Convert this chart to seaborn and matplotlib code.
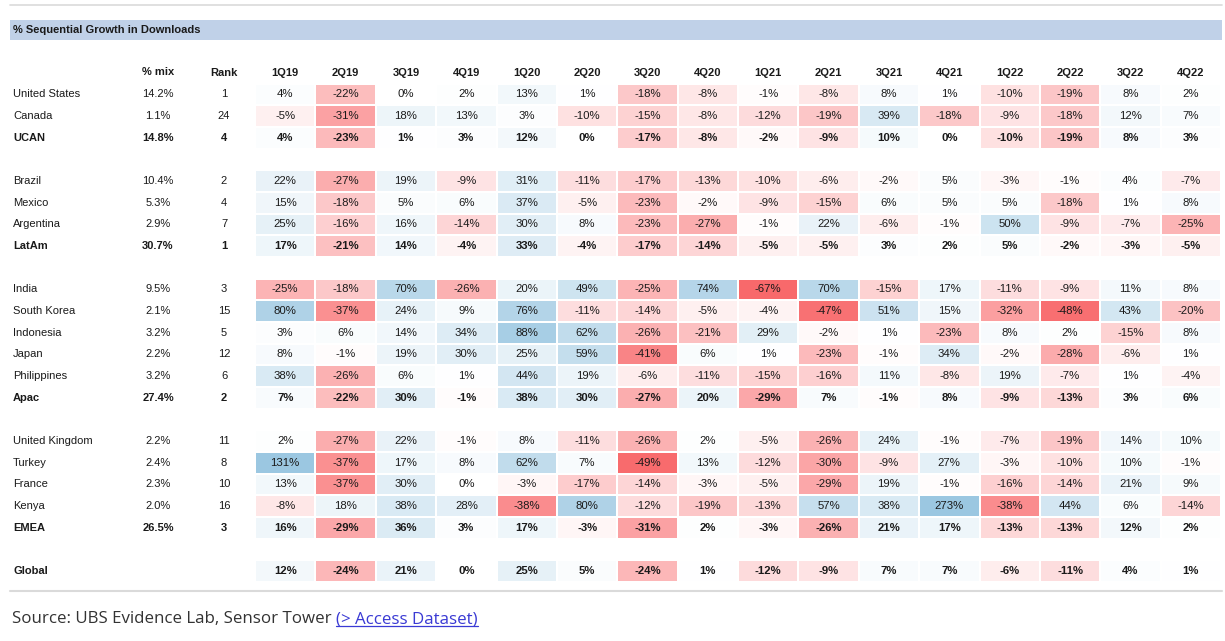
import numpy as np
import pandas as pd
import matplotlib
matplotlib.use("Agg")
import matplotlib.pyplot as plt
import matplotlib.transforms as mtransforms
from matplotlib.colors import LinearSegmentedColormap, TwoSlopeNorm
from matplotlib.lines import Line2D
from matplotlib.patches import Rectangle
import seaborn as sns

# -------------------------------------
# DATA
# -------------------------------------
quarters = ["1Q19", "2Q19", "3Q19", "4Q19", "1Q20", "2Q20", "3Q20", "4Q20",
            "1Q21", "2Q21", "3Q21", "4Q21", "1Q22", "2Q22", "3Q22", "4Q22"]

# "" marks a blank spacer row
row_names = ["United States", "Canada", "UCAN", "",
             "Brazil", "Mexico", "Argentina", "LatAm", "",
             "India", "South Korea", "Indonesia", "Japan", "Philippines", "Apac", "",
             "United Kingdom", "Turkey", "France", "Kenya", "EMEA", "",
             "Global"]
bold_rows = ["UCAN", "LatAm", "Apac", "EMEA", "Global"]

pct_mix = ["14.2%", "1.1%", "14.8%", "",
           "10.4%", "5.3%", "2.9%", "30.7%", "",
           "9.5%", "2.1%", "3.2%", "2.2%", "3.2%", "27.4%", "",
           "2.2%", "2.4%", "2.3%", "2.0%", "26.5%", "",
           ""]
rank = ["1", "24", "4", "",
        "2", "4", "7", "1", "",
        "3", "15", "5", "12", "6", "2", "",
        "11", "8", "10", "16", "3", "",
        ""]

united_states = [4, -22, 0, 2, 13, 1, -18, -8, -1, -8, 8, 1, -10, -19, 8, 2]
canada = [-5, -31, 18, 13, 3, -10, -15, -8, -12, -19, 39, -18, -9, -18, 12, 7]
ucan = [4, -23, 1, 3, 12, 0, -17, -8, -2, -9, 10, 0, -10, -19, 8, 3]
brazil = [22, -27, 19, -9, 31, -11, -17, -13, -10, -6, -2, 5, -3, -1, 4, -7]
mexico = [15, -18, 5, 6, 37, -5, -23, -2, -9, -15, 6, 5, 5, -18, 1, 8]
argentina = [25, -16, 16, -14, 30, 8, -23, -27, -1, 22, -6, -1, 50, -9, -7, -25]
latam = [17, -21, 14, -4, 33, -4, -17, -14, -5, -5, 3, 2, 5, -2, -3, -5]
india = [-25, -18, 70, -26, 20, 49, -25, 74, -67, 70, -15, 17, -11, -9, 11, 8]
south_korea = [80, -37, 24, 9, 76, -11, -14, -5, -4, -47, 51, 15, -32, -48, 43, -20]
indonesia = [3, 6, 14, 34, 88, 62, -26, -21, 29, -2, 1, -23, 8, 2, -15, 8]
japan = [8, -1, 19, 30, 25, 59, -41, 6, 1, -23, -1, 34, -2, -28, -6, 1]
philippines = [38, -26, 6, 1, 44, 19, -6, -11, -15, -16, 11, -8, 19, -7, 1, -4]
apac = [7, -22, 30, -1, 38, 30, -27, 20, -29, 7, -1, 8, -9, -13, 3, 6]
united_kingdom = [2, -27, 22, -1, 8, -11, -26, 2, -5, -26, 24, -1, -7, -19, 14, 10]
turkey = [131, -37, 17, 8, 62, 7, -49, 13, -12, -30, -9, 27, -3, -10, 10, -1]
france = [13, -37, 30, 0, -3, -17, -14, -3, -5, -29, 19, -1, -16, -14, 21, 9]
kenya = [-8, 18, 38, 28, -38, 80, -12, -19, -13, 57, 38, 273, -38, 44, 6, -14]
emea = [16, -29, 36, 3, 17, -3, -31, 2, -3, -26, 21, 17, -13, -13, 12, 2]
global_row = [12, -24, 21, 0, 25, 5, -24, 1, -12, -9, 7, 7, -6, -11, 4, 1]

blank = [np.nan] * len(quarters)
rows = [united_states, canada, ucan, blank,
        brazil, mexico, argentina, latam, blank,
        india, south_korea, indonesia, japan, philippines, apac, blank,
        united_kingdom, turkey, france, kenya, emea, blank,
        global_row]

df = pd.DataFrame(rows, columns=quarters, dtype=float)
labels = df.map(lambda v: "" if np.isnan(v) else f"{int(v)}%")

# -------------------------------------
# FIGURE
# -------------------------------------
sns.set_style("white")
plt.rcParams["font.family"] = ["Liberation Sans", "DejaVu Sans"]

W, H = 1225, 641
fig = plt.figure(figsize=(W / 100, H / 100), dpi=100)
ax = fig.add_axes([255 / W, 1 - 582 / H, (1221 - 255) / W, (582 - 83.5) / H])

cmap = LinearSegmentedColormap.from_list("rwb", ["#F8696B", "#FFFFFF", "#9BC7E1"])
norm = TwoSlopeNorm(vmin=-50, vcenter=0, vmax=100)

sns.heatmap(df, ax=ax, cmap=cmap, norm=norm, annot=labels, fmt="",
            annot_kws={"color": "#1a1a1a", "fontsize": 8.2},
            cbar=False, xticklabels=False, yticklabels=False,
            linewidths=0.2, linecolor="white")

for t in ax.texts:
    r = int(t.get_position()[1])
    if row_names[r] in bold_rows:
        t.set_fontweight("bold")

# header row
for j, q in enumerate(quarters):
    ax.text(j + 0.5, -0.5, q, ha="center", va="center", fontsize=8,
            fontweight="bold", color="#1a1a1a", clip_on=False)

# left columns: name, % mix, rank
trans = mtransforms.blended_transform_factory(fig.transFigure, ax.transData)
ax.text(158 / W, -0.55, "% mix", transform=trans, ha="center", va="center",
        fontsize=8, fontweight="bold", color="#1a1a1a")
ax.text(224 / W, -0.5, "Rank", transform=trans, ha="center", va="center",
        fontsize=8, fontweight="bold", color="#1a1a1a")
for i, name in enumerate(row_names):
    if not name:
        continue
    w = "bold" if name in bold_rows else "normal"
    ax.text(13 / W, i + 0.5, name, transform=trans, ha="left", va="center",
            fontsize=8, fontweight=w, color="#1a1a1a")
    ax.text(158 / W, i + 0.5, pct_mix[i], transform=trans, ha="center", va="center",
            fontsize=8, fontweight=w, color="#1a1a1a")
    ax.text(224 / W, i + 0.5, rank[i], transform=trans, ha="center", va="center",
            fontsize=8, fontweight=w, color="#1a1a1a")

# title bar and rules
fig.add_artist(Line2D([10 / W, 1222 / W], [1 - 5 / H] * 2, color="#DADADA", lw=1.2))
fig.add_artist(Rectangle((10 / W, 1 - 40 / H), 1212 / W, 20 / H,
                         transform=fig.transFigure, color="#C0D1E8", lw=0))
fig.text(13 / W, 1 - 30 / H, "% Sequential Growth in Downloads", ha="left", va="center",
         fontsize=8, fontweight="bold", color="#1a1a1a")
fig.add_artist(Line2D([10 / W, 1222 / W], [1 - 591 / H] * 2, color="#DADADA", lw=1.5))

# source line with link
src = fig.text(12 / W, 1 - 619 / H, "Source: UBS Evidence Lab, Sensor Tower ",
               ha="left", va="center", fontsize=12.2, color="#333333",
               family=["Open Sans", "DejaVu Sans"])
renderer = fig.canvas.get_renderer()
bb = src.get_window_extent(renderer)
link = fig.text(bb.x1 / W, 1 - 619 / H, "(> Access Dataset)", ha="left", va="center",
                fontsize=12.2, color="#3A3AD4", family=["Open Sans", "DejaVu Sans"])
lb = link.get_window_extent(renderer)
fig.add_artist(Line2D([lb.x0 / W, lb.x1 / W], [(lb.y0 + 1) / H] * 2,
                      color="#3A3AD4", lw=0.9))

fig.savefig("out.png", dpi=100)
